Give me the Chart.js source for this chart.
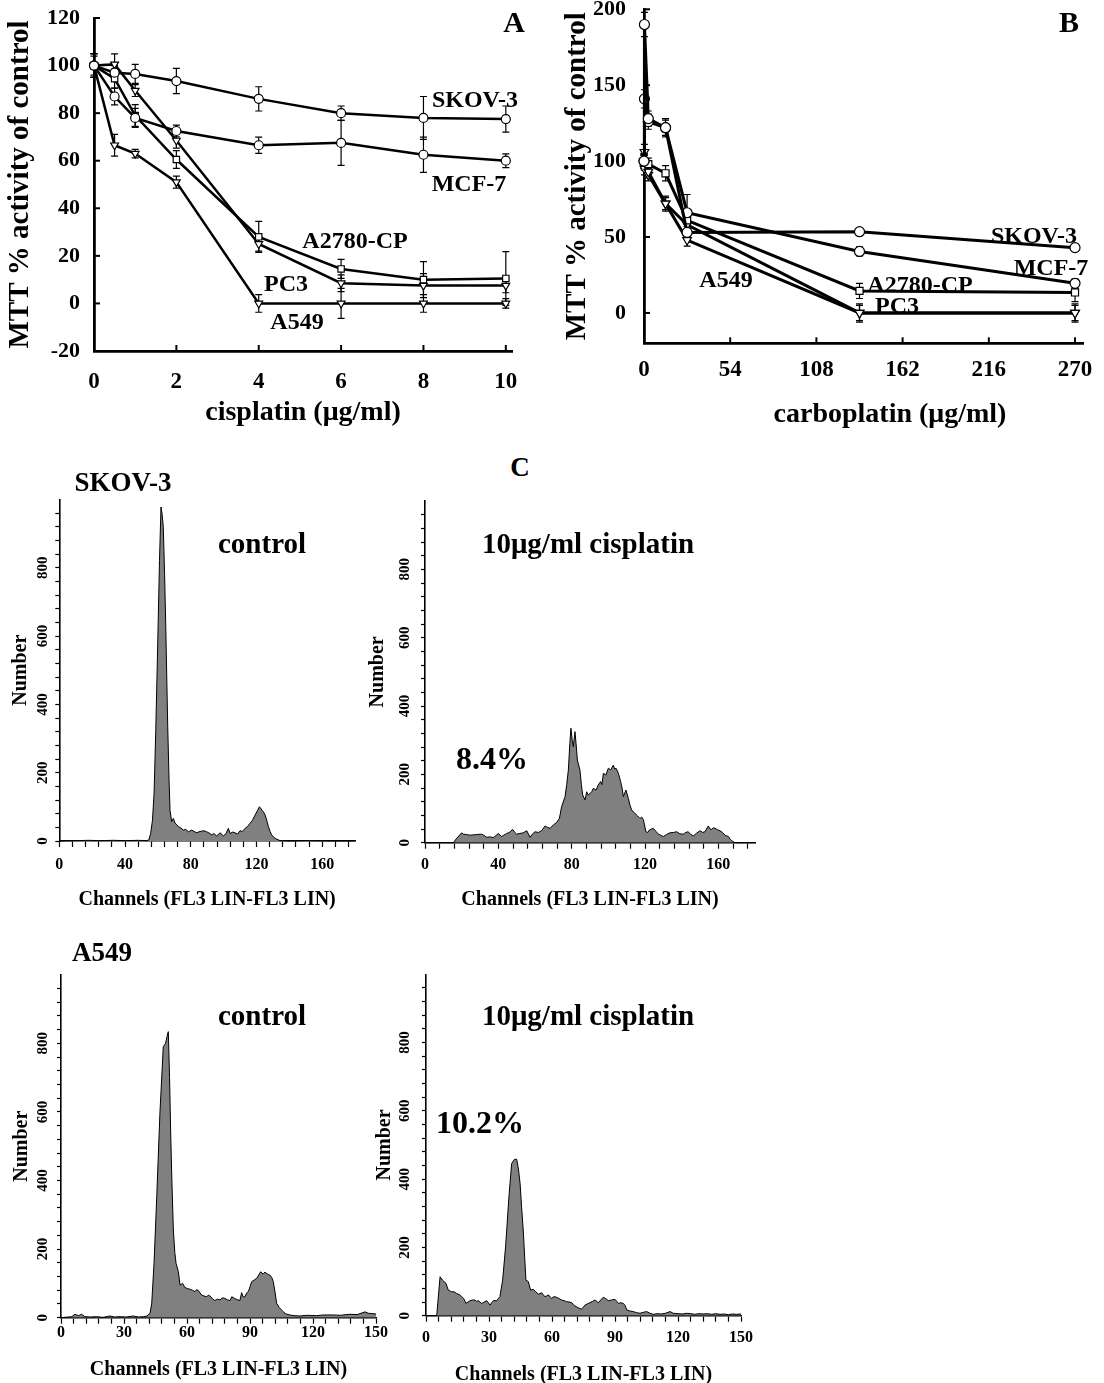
<!DOCTYPE html>
<html><head><meta charset="utf-8">
<script src="https://cdn.jsdelivr.net/npm/chart.js@4.4.1/dist/chart.umd.min.js"></script>
<style>
html,body{margin:0;padding:0;background:#fff;width:1104px;height:1383px;overflow:hidden;}
#wrap{position:relative;width:1104px;height:1383px;}
canvas{position:absolute;}
.t{position:absolute;font-family:'Liberation Serif','Times New Roman',serif;font-weight:bold;color:#000;white-space:nowrap;line-height:1;transform:translate(-50%,-50%);}
</style></head>
<body><div id="wrap">
<canvas id="cA" width="540" height="430" style="left:0;top:0;width:540px;height:430px"></canvas>
<canvas id="cB" width="544" height="430" style="left:560px;top:0;width:544px;height:430px"></canvas>
<canvas id="h1" width="380" height="430" style="left:0;top:490px;width:380px;height:430px"></canvas>
<canvas id="h2" width="420" height="430" style="left:360px;top:490px;width:420px;height:430px"></canvas>
<canvas id="h3" width="400" height="423" style="left:0;top:960px;width:400px;height:423px"></canvas>
<canvas id="h4" width="420" height="435" style="left:365px;top:960px;width:420px;height:435px"></canvas>

<div class="t" style="left:514px;top:22px;font-size:30px">A</div>
<div class="t" style="left:475px;top:99px;font-size:24px">SKOV-3</div>
<div class="t" style="left:469px;top:183px;font-size:24px">MCF-7</div>
<div class="t" style="left:355px;top:240px;font-size:24px">A2780-CP</div>
<div class="t" style="left:286px;top:283px;font-size:24px">PC3</div>
<div class="t" style="left:297px;top:321px;font-size:24px">A549</div>

<div class="t" style="left:1069px;top:22px;font-size:30px">B</div>
<div class="t" style="left:1034px;top:235px;font-size:24px">SKOV-3</div>
<div class="t" style="left:1051px;top:267px;font-size:24px">MCF-7</div>
<div class="t" style="left:920px;top:284px;font-size:24px">A2780-CP</div>
<div class="t" style="left:897px;top:305px;font-size:24px">PC3</div>
<div class="t" style="left:726px;top:279px;font-size:24px">A549</div>
<div class="t" style="left:890px;top:413px;font-size:28px">carboplatin (μg/ml)</div>

<div class="t" style="left:520px;top:467px;font-size:27px">C</div>
<div class="t" style="left:123px;top:482px;font-size:27px">SKOV-3</div>
<div class="t" style="left:262px;top:543px;font-size:29px">control</div>
<div class="t" style="left:588px;top:543px;font-size:29px">10μg/ml cisplatin</div>
<div class="t" style="left:492px;top:758px;font-size:32px">8.4%</div>
<div class="t" style="left:102px;top:952px;font-size:27px">A549</div>
<div class="t" style="left:262px;top:1015px;font-size:29px">control</div>
<div class="t" style="left:588px;top:1015px;font-size:29px">10μg/ml cisplatin</div>
<div class="t" style="left:480px;top:1122px;font-size:32px">10.2%</div>
</div>
<script>
// ---------- Panel A: cisplatin MTT ----------
const cisDose = [0, 0.5, 1, 2, 4, 6, 8, 10];
const cisSKOV3 = [100, 97, 96.5, 93.5, 86, 80, 78, 77.5];
const cisSKOV3Err = [5, 3, 4, 5.3, 5.1, 3, 9, 5.5];
const cisMCF7 = [100, 87, 78, 72.5, 66.5, 67.5, 62.5, 60];
const cisMCF7Err = [5, 3.5, 4, 2.5, 3.4, 9.5, 7.4, 2.9];
const cisA2780CP = [100, 94.5, 79, 60.5, 28, 14.5, 10, 10.5];
const cisA2780CPErr = [4, 4, 4.6, 3.7, 6.5, 4, 7.6, 11.3];
const cisPC3 = [100, 100.5, 89.5, 68.5, 25, 8.5, 7.5, 7.5];
const cisPC3Err = [5, 4.4, 2.5, 3.2, 3, 3.5, 5, 3];
const cisA549 = [100, 66.5, 63, 51, 0, 0, 0, 0];
const cisA549Err = [5, 4.6, 1.8, 2.5, 3.7, 6.3, 3.7, 2];
const cisXTicks = [0, 2, 4, 6, 8, 10];
const cisYTicks = [-20, 0, 20, 40, 60, 80, 100, 120];

// ---------- Panel B: carboplatin MTT ----------
const carboDose = [0, 0.27, 2.7, 13.5, 27, 135, 270];
const carboSKOV3 = [100, 190, 128, 122, 53, 53.5, 43];
const carboSKOV3Err = [5, 8, 5, 6, 4, 2, 2];
const carboMCF7 = [100, 141, 126, 122, 66, 40.5, 19.5];
const carboMCF7Err = [5, 6, 5, 5, 12, 3, 3];
const carboA2780CP = [100, 99, 98, 92, 61, 14.5, 13.5];
const carboA2780CPErr = [4, 5, 4, 5, 6, 5, 6];
const carboPC3 = [100, 106, 93, 72, 58, 0, 0];
const carboPC3Err = [4, 5, 4, 5, 4, 6, 6];
const carboA549 = [100, 95, 91, 72, 48, 0, 0];
const carboA549Err = [4, 4, 4, 4, 4, 5, 5];
const carboXTicks = [0, 54, 108, 162, 216, 270];
const carboYTicks = [0, 50, 100, 150, 200];

// ---------- Panel C: DNA histograms ----------
const skovCtrlCh = [0,10,18,25,33,40,48,53,54.5,55.6,56.7,57.7,58.7,59.7,61,61.9,62.5,63.3,64.1,64.8,66,66.8,67.4,68.4,69.4,70.5,71.5,72.5,74,75.5,77,78.6,80.6,82,83.7,85,86.7,88,89.7,91,92.8,94,95.8,97.9,99.9,101.5,102.9,104,105.5,107,108.5,110,111.5,113.1,114.5,116.1,117.5,119.2,120.5,121.8,122.5,123.2,124.3,125.3,126.3,127.3,128.3,129.3,130.3,131.4,132.5,134.4,140,150,165,180];
const skovCtrlN  = [0,1,2,1,2,1,2,1,3,22,60,140,320,530,822,978,960,920,780,630,335,180,90,57,66,52,48,42,38,32,34,27,32,28,24,27,29,30,27,24,18,22,15,24,15,22,37,22,26,24,20,30,28,37,42,52,60,76,88,100,97,91,85,76,60,42,28,18,12,8,5,1,0,1,0,0];

const skovCisCh = [0,15.5,17.3,18.5,20,20.9,22.5,24.5,26.5,28.2,30.9,32,33.6,35.5,37.3,38.5,40,41.8,43,44.5,46,47.8,49,50,51.8,53.6,55.5,57.3,58.5,60,61.8,63.6,65.5,66.8,68.2,70,71.8,73.3,74.5,76.4,77.3,78.2,79,79.6,80.3,80.9,81.8,82.4,83.1,84.5,85.3,86,87.3,88.2,89,90,91,91.8,93.3,94.5,95.8,96.5,97.3,98.7,100,101.3,102.7,103.5,104.2,105.5,106.7,107.5,108.2,109.6,110.9,111.8,112.7,113.6,114.5,116,117.3,118.2,119.1,120.5,121.5,122.4,123.5,124.5,126,127.3,128.5,130,131.8,133.6,135.5,137.3,139,140.9,142.2,143.6,145,146.4,148.2,150,151.5,152.7,154.5,155.5,156.4,157.3,158.2,159.5,160.9,162.3,163.6,164.5,165.5,166.5,167.3,169,180];
const skovCisN  = [0,0,13,20,29,25,24,22,23,24,25,22,16,17,15,20,27,18,22,27,30,39,30,25,27,29,35,16,25,32,30,35,49,45,42,52,59,71,105,135,170,213,290,335,300,281,325,290,242,213,170,140,125,149,140,144,150,159,154,169,179,170,203,198,218,213,227,215,218,203,179,160,135,154,130,110,96,90,86,78,71,75,68,32,30,37,40,42,33,25,22,18,24,29,30,32,26,25,30,32,24,20,28,35,30,32,49,40,39,44,42,38,35,30,22,20,18,10,6,0,0];

const a549CtrlCh = [0,5.1,6.7,8.3,9.8,11.4,14,17,20,23.3,25.5,28.1,31,34.4,37,39.2,41,42.4,43.2,44.3,45.6,47.1,48.7,49.8,50.5,51.1,51.7,52.2,52.8,53.5,54.2,54.8,55.9,56.7,57.9,59,60.2,61.4,62.6,63.8,64.6,65.4,67,68.2,69.4,70.2,71,72.2,73.3,74.5,75.7,76.9,78.1,79.3,80.5,81.3,82.5,83.7,85.2,86,86.8,87.6,88.4,89.2,90,90.8,92,93.2,94.2,95.1,96.3,97.1,97.9,98.7,99.5,100.3,101.1,101.9,102.7,103.9,105.1,106.1,107.1,109,111,113.8,117,121.7,125,129.7,133,137.6,141,144.8,146.3,148,150];
const a549CtrlN  = [0,3,10,6,10,3,2,3,1,5,2,3,2,5,2,3,5,13,42,158,353,596,790,800,820,834,700,547,400,256,190,158,134,95,100,88,85,83,80,76,82,79,66,63,61,66,63,55,50,54,52,58,56,52,50,61,57,53,50,73,60,61,72,76,90,105,110,115,125,134,127,133,129,126,124,118,105,75,42,30,22,16,11,8,6,5,7,6,8,8,7,10,9,17,13,12,11];

const a549CisCh = [0,5.1,6.7,7.9,9.5,10.6,12.2,13.4,14.6,15.8,17,18,19,20,21,22.2,23.3,24.1,24.9,25.7,26.5,27.7,28.9,29.7,30.5,31.3,32.1,33.7,34.4,35.2,36.5,37.9,39.5,40.8,42.1,43.2,44,44.8,45.5,46.3,47,47.6,48.7,49.8,51.1,52.3,53.5,54.3,55.1,55.9,56.7,57.5,58.3,59.1,59.8,61,62.2,63.4,64.6,65.8,67,68.2,69.4,70.5,71.7,72.9,74.1,74.9,75.7,76.9,78.1,79.3,80.5,81.3,82.1,83.2,84.4,85.6,86.8,88.4,90,90.8,91.6,92.8,94,94.8,95.6,97,98.7,100.3,101.9,103.5,105.1,106.7,108.3,110,112,114,116.2,117.8,120,122,124.1,126,128,130,132,134,136,138,140,142,144,146,148,150];
const a549CisN  = [0,0,114,104,95,75,70,70,65,62,56,50,36,40,44,46,46,42,44,40,36,40,44,38,31,38,44,44,50,56,104,202,349,446,458,458,430,388,320,251,170,104,100,75,77,70,63,65,67,60,56,58,61,55,51,56,54,50,46,44,41,40,38,30,26,22,19,25,31,35,38,42,46,42,38,46,54,50,44,46,48,42,36,38,36,30,17,14,12,9,7,10,12,7,4,6,5,7,12,7,6,5,7,6,4,6,5,6,4,6,4,5,3,5,4,5];

const histYLabels = [0, 200, 400, 600, 800];
const skovXLabels = [0, 40, 80, 120, 160];
const a549XLabels = [0, 30, 60, 90, 120, 150];

Chart.defaults.font.family = "'Liberation Serif','Times New Roman',serif";
Chart.defaults.font.weight = 'bold';
Chart.defaults.color = '#000';

const tickMarksIn = {
  id: 'tickMarksIn',
  beforeDatasetsDraw(chart) {
    const {ctx, chartArea: a, scales: {x, y}} = chart;
    ctx.save(); ctx.strokeStyle = '#000'; ctx.lineWidth = 2;
    x.ticks.forEach(t => { const p = x.getPixelForValue(t.value); ctx.beginPath(); ctx.moveTo(p, a.bottom); ctx.lineTo(p, a.bottom - 6); ctx.stroke(); });
    y.ticks.forEach(t => { const p = y.getPixelForValue(t.value); ctx.beginPath(); ctx.moveTo(a.left, p); ctx.lineTo(a.left + 6, p); ctx.stroke(); });
    ctx.restore();
  }
};
const errorBars = {
  id: 'errorBars',
  beforeDatasetsDraw(chart) {
    const ctx = chart.ctx, ys = chart.scales.y;
    ctx.save(); ctx.strokeStyle = '#000'; ctx.lineWidth = 1.2;
    chart.data.datasets.forEach((ds, di) => {
      if (!ds.err) return;
      const meta = chart.getDatasetMeta(di);
      meta.data.forEach((pt, i) => {
        const e = ds.err[i]; if (!e) return;
        const v = ds.data[i].y;
        const y1 = ys.getPixelForValue(v + e), y2 = ys.getPixelForValue(v - e), x = pt.x, c = 3.5;
        ctx.beginPath();
        ctx.moveTo(x, y1); ctx.lineTo(x, y2);
        ctx.moveTo(x - c, y1); ctx.lineTo(x + c, y1);
        ctx.moveTo(x - c, y2); ctx.lineTo(x + c, y2);
        ctx.stroke();
      });
    });
    ctx.restore();
  }
};

function mttChart(id, o) {
  return new Chart(document.getElementById(id), {
    type: 'line',
    data: { datasets: o.series.map(s => ({
      label: s.name,
      data: o.dose.map((d, i) => ({x: d, y: s.vals[i]})),
      err: s.errs,
      borderColor: '#000', borderWidth: o.lineW, tension: 0, fill: false, clip: false,
      pointStyle: s.style, pointRotation: s.style === 'triangle' ? 180 : 0,
      pointRadius: o.r, pointBackgroundColor: '#fff', pointBorderColor: '#000', pointBorderWidth: 1.2
    }))},
    options: {
      responsive: false, animation: false, events: [],
      layout: {padding: o.pad},
      plugins: {legend: {display: false}, tooltip: {enabled: false}},
      scales: {
        x: {type: 'linear', min: o.xMin, max: o.xMax,
          afterBuildTicks: s => { s.ticks = o.xTicks.map(v => ({value: v})); },
          afterFit: s => { s.height = o.xH; s.paddingLeft = 0; s.paddingRight = 0; },
          grid: {display: true, drawOnChartArea: false, drawTicks: false},
          border: {display: true, color: '#000', width: 2.8},
          ticks: {font: {size: 23}, padding: o.xLabPad, maxRotation: 0, minRotation: 0, autoSkip: false},
          title: o.xTitle ? {display: true, text: o.xTitle, font: {size: 28}, padding: {top: 0, bottom: o.xTitlePad}} : {display: false}
        },
        y: {min: o.yMin, max: o.yMax,
          afterBuildTicks: s => { s.ticks = o.yTicks.map(v => ({value: v})); },
          afterFit: s => { s.width = o.yW; s.paddingTop = 0; s.paddingBottom = 0; },
          grid: {display: true, drawOnChartArea: false, drawTicks: false},
          border: {display: true, color: '#000', width: 2.8},
          ticks: {font: {size: 22}, padding: o.yLabPad, autoSkip: false},
          title: {display: true, text: 'MTT % activity of control', font: {size: 29}, padding: {top: o.yTitlePad, bottom: 0}}
        }
      }
    },
    plugins: [tickMarksIn, errorBars]
  });
}

mttChart('cA', {
  dose: cisDose, xMin: 0, xMax: 10.15, yMin: -20, yMax: 120, xTicks: cisXTicks, yTicks: cisYTicks,
  pad: {left: 0, top: 18, right: 28, bottom: 0}, xH: 79, yW: 94,
  xLabPad: 17, yLabPad: 14, yTitlePad: 3.5, xTitlePad: 0, xTitle: 'cisplatin (μg/ml)',
  lineW: 2.5, r: 4.5,
  series: [
    {name: 'SKOV-3', vals: cisSKOV3, errs: cisSKOV3Err, style: 'circle'},
    {name: 'MCF-7', vals: cisMCF7, errs: cisMCF7Err, style: 'circle'},
    {name: 'A2780-CP', vals: cisA2780CP, errs: cisA2780CPErr, style: 'rect'},
    {name: 'PC3', vals: cisPC3, errs: cisPC3Err, style: 'triangle'},
    {name: 'A549', vals: cisA549, errs: cisA549Err, style: 'triangle'}
  ]
});

mttChart('cB', {
  dose: carboDose, xMin: 0, xMax: 275, yMin: -20, yMax: 200, xTicks: carboXTicks, yTicks: carboYTicks,
  pad: {left: 0, top: 9.3, right: 21, bottom: 0}, xH: 86.7, yW: 84,
  xLabPad: 13, yLabPad: 18, yTitlePad: 0, xTitlePad: 0, xTitle: null,
  lineW: 3, r: 5,
  series: [
    {name: 'SKOV-3', vals: carboSKOV3, errs: carboSKOV3Err, style: 'circle'},
    {name: 'MCF-7', vals: carboMCF7, errs: carboMCF7Err, style: 'circle'},
    {name: 'A2780-CP', vals: carboA2780CP, errs: carboA2780CPErr, style: 'rect'},
    {name: 'PC3', vals: carboPC3, errs: carboPC3Err, style: 'triangle'},
    {name: 'A549', vals: carboA549, errs: carboA549Err, style: 'triangle'}
  ]
});

function histChart(id, xs, ys, o) {
  return new Chart(document.getElementById(id), {
    type: 'line',
    data: {datasets: [{data: xs.map((x, i) => ({x, y: ys[i]})), borderColor: '#000', borderWidth: 1,
      backgroundColor: '#808080', fill: 'origin', pointRadius: 0, tension: 0, clip: false}]},
    options: {
      responsive: false, animation: false, events: [],
      layout: {padding: {left: 0, top: o.padTop, right: o.padRight, bottom: 0}},
      plugins: {legend: {display: false}, tooltip: {enabled: false}},
      scales: {
        x: {type: 'linear', min: 0, max: o.xMax,
          afterBuildTicks: s => { const t = []; for (let v = 0; v <= o.xMax; v += o.xMinor) t.push({value: v}); s.ticks = t; },
          afterFit: s => { s.height = o.xH; s.paddingLeft = 0; s.paddingRight = 0; },
          grid: {display: true, drawOnChartArea: false, drawTicks: true, tickLength: 6, tickColor: '#000', tickWidth: 1.2},
          border: {display: true, color: '#000', width: 1.6},
          ticks: {font: {size: 16}, padding: o.xLabPad, maxRotation: 0, minRotation: 0, autoSkip: false,
            callback: v => o.xLabels.includes(v) ? String(v) : ''},
          title: {display: true, text: 'Channels (FL3 LIN-FL3 LIN)', font: {size: 20}, padding: {top: 0, bottom: o.xTitlePad}}
        },
        y: {min: 0, max: 1000,
          afterBuildTicks: s => { const t = []; for (let v = 0; v < 1000; v += 40) t.push({value: v}); s.ticks = t; },
          afterFit: s => { s.width = o.yW; s.paddingTop = 0; s.paddingBottom = 0; },
          grid: {display: true, drawOnChartArea: false, drawTicks: true, tickLength: 4, tickColor: '#000', tickWidth: 1.2},
          border: {display: true, color: '#000', width: 1.6},
          ticks: {font: {size: 15}, padding: o.yLabPad, minRotation: 90, maxRotation: 90, crossAlign: 'center', autoSkip: false,
            callback: v => histYLabels.includes(v) ? String(v) : ''},
          title: {display: true, text: 'Number', font: {size: 20}, padding: {top: o.yTitlePad, bottom: 0}}
        }
      }
    }
  });
}

histChart('h1', skovCtrlCh, skovCtrlN, {xMax: 180, xMinor: 8, xLabels: skovXLabels, padTop: 9.5, padRight: 25, xH: 79, yW: 59.3, yLabPad: 0.5, yTitlePad: 8.7, xLabPad: 8.4, xTitlePad: 8});
histChart('h2', skovCisCh, skovCisN, {xMax: 180, xMinor: 8, xLabels: skovXLabels, padTop: 11, padRight: 25, xH: 77.3, yW: 65, yLabPad: 4.75, yTitlePad: 6.3, xLabPad: 6.7, xTitlePad: 8});
histChart('h3', a549CtrlCh, a549CtrlN, {xMax: 150, xMinor: 6, xLabels: a549XLabels, padTop: 14.7, padRight: 24, xH: 65.3, yW: 61, yLabPad: 2.5, yTitlePad: 9.7, xLabPad: 0, xTitlePad: 1});
histChart('h4', a549CisCh, a549CisN, {xMax: 150, xMinor: 6, xLabels: a549XLabels, padTop: 14.3, padRight: 44, xH: 79.3, yW: 61, yLabPad: 5.75, yTitlePad: 8, xLabPad: 7, xTitlePad: 8});
</script>
</body></html>
